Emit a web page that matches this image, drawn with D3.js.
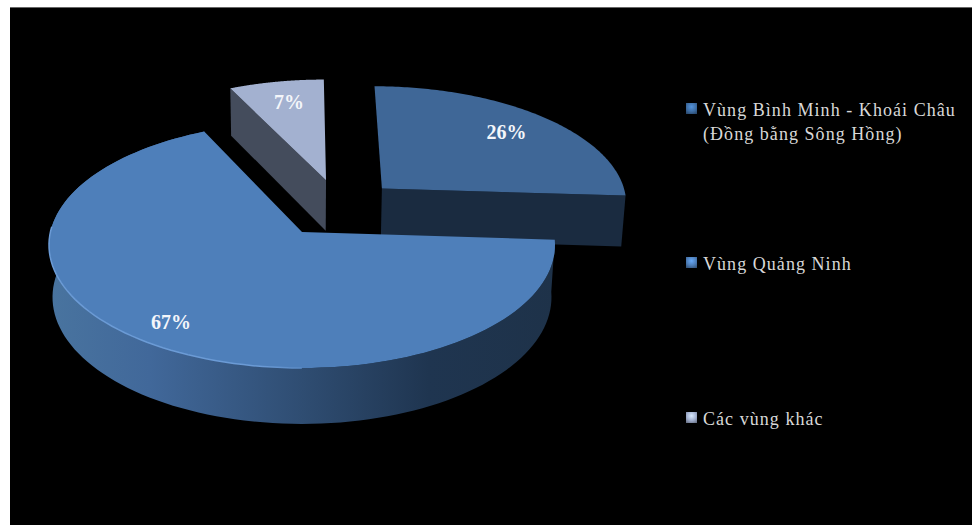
<!DOCTYPE html>
<html>
<head>
<meta charset="utf-8">
<style>
  html, body { margin: 0; padding: 0; background: #fff; }
  svg { display: block; }
  text { font-family: "Liberation Serif", serif; }
</style>
<script src="https://cdn.jsdelivr.net/npm/d3@7/dist/d3.min.js"></script>
</head>
<body>
<script>
// Regional shares, in percent
const categories = ["Vùng Bình Minh - Khoái Châu", "Vùng Quảng Ninh", "Các vùng khác"];
const legendLines = [["Vùng Bình Minh - Khoái Châu", "(Đồng bằng Sông Hồng)"], ["Vùng Quảng Ninh"], ["Các vùng khác"]];
const shares = [26, 67, 7];
const shareLabels = ["26%", "67%", "7%"];
const topColors = ["#3f6797", "#4e7fba", "#a3b1d0"];
const sideColors = ["#1a2b40", "#2f4d72", "#444c5c"];
const keyColors = ["#3f6fa6", "#4e7fba", "#a3b1d0"];

// Slice displacement on the unit disc, pulled out from the pie centre
const explode = [[0.33, 0.372], [0, 0], [0.1, 0.445]];
const labelAnchors = [[506.5, 139], [171, 329], [289, 109]];
const legendTops = [116, 270, 425];

const width = 972, height = 525;
const svg = d3.select("body").append("svg").attr("width", width).attr("height", height);

// Perspective projection of the tilted disc: (u, v) on the disc, z = 0 top face, z = 1 base
const cx = 302, cy = 232, a = 251.6, b = 121.6, depth = 52.7, k = 0.1057, m = 0.014;
function project(u, v, z) {
  const w = 1 + k * v + m * z;
  return [cx + a * u / w, cy + (-b * v + depth * z) / w];
}

const arcs = d3.pie().sort(null).value(d => d)(shares);
const line = d3.line();

function arcPoints(s, i, z, reverse) {
  const steps = d3.range(0, 121).map(t => s.startAngle + (s.endAngle - s.startAngle) * t / 120);
  if (reverse) steps.reverse();
  const [ox, oy] = explode[i];
  return steps.map(t => project(ox + Math.sin(t), oy + Math.cos(t), z));
}
const apex = (i, z) => project(explode[i][0], explode[i][1], z);

// Rim shading on the large slice runs from mid blue on the left to navy on the right
const defs = svg.append("defs");
const rim = defs.append("linearGradient").attr("id", "rimShade")
  .attr("gradientUnits", "userSpaceOnUse").attr("x1", 48).attr("x2", 556).attr("y1", 0).attr("y2", 0);
[[0, "#49749f"], [0.2, "#41689a"], [0.5, "#2f4d72"], [0.75, "#1f3550"], [1, "#1e3249"]]
  .forEach(([o, c]) => rim.append("stop").attr("offset", o).attr("stop-color", c));

const edge = defs.append("linearGradient").attr("id", "rimLight")
  .attr("gradientUnits", "userSpaceOnUse").attr("x1", 48).attr("x2", 330).attr("y1", 0).attr("y2", 0);
[[0, "#6b9bd6"], [0.75, "#6b9bd6"], [1, "#4e7fba"]]
  .forEach(([o, c]) => edge.append("stop").attr("offset", o).attr("stop-color", c));

// Legend key: a small bevelled square
keyColors.forEach((c, i) => {
  const g = defs.append("radialGradient").attr("id", "key" + i).attr("cy", 0.35).attr("r", 0.75);
  g.append("stop").attr("offset", 0).attr("stop-color", d3.color(c).brighter(0.8));
  g.append("stop").attr("offset", 0.55).attr("stop-color", c);
  g.append("stop").attr("offset", 1).attr("stop-color", d3.color(c).darker(1.2));
});

// Page margin is white; the chart sits on a black panel
svg.append("rect").attr("x", 10).attr("y", 7).attr("width", width - 10).attr("height", height - 7).attr("fill", "#000");
svg.append("rect").attr("x", 10).attr("y", 7).attr("width", width - 10).attr("height", 1).attr("fill", "#666");

// Draw far slices first so the large slice overlaps them
[2, 0, 1].forEach(i => {
  const s = arcs[i];
  const g = svg.append("g");
  if (i === 1) {
    g.append("path")
      .attr("d", line([...arcPoints(s, i, 0, false), ...arcPoints(s, i, 1, true)]) + "Z")
      .attr("fill", "url(#rimShade)");
  } else {
    // Radial wall on the cut that faces the viewer
    const cut = i === 0 ? s.endAngle : s.startAngle;
    const [ox, oy] = explode[i];
    const tip = z => project(ox + Math.sin(cut), oy + Math.cos(cut), z);
    g.append("path")
      .attr("d", line([apex(i, 0), tip(0), tip(1), apex(i, 1)]) + "Z")
      .attr("fill", sideColors[i]);
  }
  g.append("path")
    .attr("d", line([apex(i, 0), ...arcPoints(s, i, 0, false)]) + "Z")
    .attr("fill", topColors[i]);
  if (i === 1) {
    // Bright bevel along the near-left edge of the top face
    const lit = arcPoints(s, i, 0, false).slice(43, 90);
    g.append("path").attr("d", line(lit)).attr("fill", "none")
      .attr("stroke", "url(#rimLight)").attr("stroke-width", 1.5);
  }
});

// Percentage labels
svg.append("g").selectAll("text").data(shareLabels).join("text")
  .attr("x", (d, i) => labelAnchors[i][0])
  .attr("y", (d, i) => labelAnchors[i][1])
  .attr("text-anchor", "middle")
  .attr("font-size", 20)
  .attr("font-weight", "bold")
  .attr("fill", "#f4f6fa")
  .text(d => d);

// Legend
const legend = svg.append("g").selectAll("g").data(categories).join("g");
legend.append("rect")
  .attr("x", 686).attr("y", (d, i) => legendTops[i] - 13)
  .attr("width", 11).attr("height", 11)
  .attr("fill", (d, i) => `url(#key${i})`);
legend.each(function (d, i) {
  d3.select(this).selectAll("text").data(legendLines[i]).join("text")
    .attr("x", 703)
    .attr("y", (t, j) => legendTops[i] + j * 24)
    .attr("font-size", 18)
    .attr("letter-spacing", 1.05)
    .attr("fill", "#d8d8d8")
    .text(t => t);
});
</script>
</body>
</html>
